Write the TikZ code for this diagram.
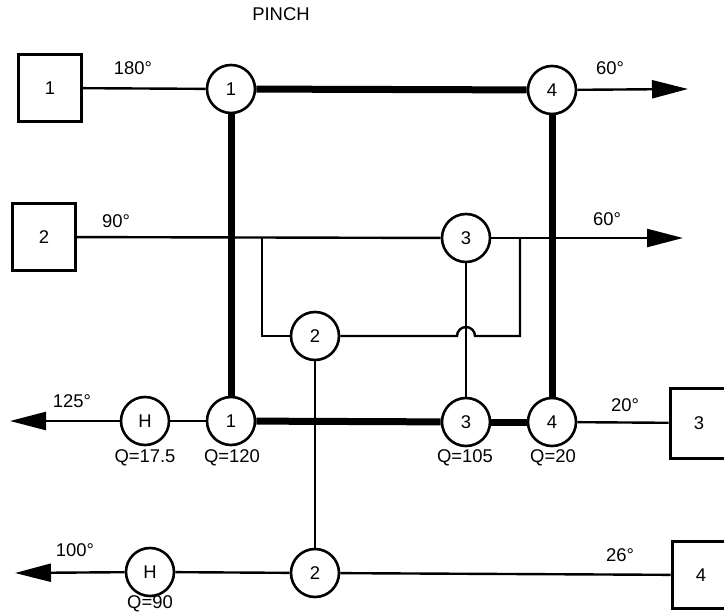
\documentclass[tikz,border=0pt]{standalone}
\usepackage{fontspec}
\setmainfont{Liberation Sans}
\usetikzlibrary{arrows.meta}
\begin{document}
\begin{tikzpicture}[x=1bp,y=-1bp,line width=2.4bp,font=\fontsize{18.5}{22}\selectfont,
  hx/.style={draw,circle,minimum size=48bp,inner sep=0pt,fill=white,line width=2.6bp},
  src/.style={draw,minimum width=62bp,minimum height=67bp,inner sep=0pt,line width=3bp},
  hot/.style={line width=7bp},
  outflow/.style={-{Triangle[length=36bp,width=18bp]}}]
\useasboundingbox(0,0)rectangle(724,614);
\node[src](b1)at(50,88){1};\node[src](b2)at(44,237){2};
\node[src,minimum width=58bp,minimum height=70bp](b3)at(699,423){3};\node[src,minimum width=58bp](b4)at(701,575){4};
\node[hx](h11)at(231,89){1};\node[hx](h14)at(552,90){4};
\node[hx](h23)at(466,238){3};\node[hx](h22)at(315,336){2};
\node[hx](hh3)at(145,421){H};\node[hx](c1)at(231,421){1};\node[hx](c3)at(466,422){3};\node[hx](c4)at(552,422){4};
\node[hx](hh4)at(150,572){H};\node[hx](c2)at(315,573){2};
\coordinate(e1)at(688,89);\coordinate(e2)at(683,238);\coordinate(e3)at(10,421);\coordinate(e4)at(15,573);
\coordinate(byl)at(262,238);\coordinate(byr)at(520,238);
\draw(b1)--(h11);\draw[hot](h11)--(h14);\draw[outflow](h14)--(e1);
\draw[hot](h11)--(c1);\draw[hot](h14)--(c4);
\draw(b2)--(h23);\draw[outflow](h23)--(e2);
\draw(byl)|-(h22);\draw(h22)--([xshift=-9bp]h22-|c3)arc[start angle=180,end angle=0,radius=9bp]--(h22-|byr)--(byr);
\draw(h23)--(c3);\draw(h22)--(c2);
\draw(b3)--(c4);\draw[hot](c4)--(c3);\draw[hot](c3)--(c1);\draw(c1)--(hh3);\draw[outflow](hh3)--(e3);
\draw(b4)--(c2);\draw(c2)--(hh4);\draw[outflow](hh4)--(e4);
\node(pinch)at(281,14){PINCH};
\node(t1in)at(133,68){180°};\node(t1out)at(610,68){60°};
\node(t2in)at(116,221){90°};\node(t2out)at(607,219){60°};
\node(t3out)at(72,401){125°};\node(t3in)at(625,405){20°};
\node(t4out)at(75,550){100°};\node(t4in)at(620,555){26°};
\foreach\n/\x/\q in{qh3/145/17.5,q1/232/120,q3/465/105,q4/553/20}{\node(\n)at(\x,458){Q=\q};}
\node(qh4)at(150,604){Q=90};
\end{tikzpicture}
\end{document}
